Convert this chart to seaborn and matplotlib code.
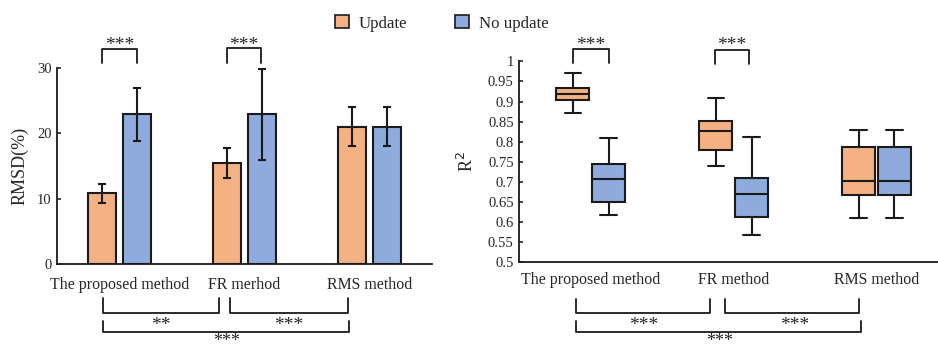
import numpy as np
import pandas as pd
import seaborn as sns
import matplotlib.pyplot as plt
import matplotlib.transforms as mtransforms
from matplotlib.patches import Patch

# RMSD (%) bars: mean and error half-width
methods_left = ['The proposed method', 'FR merhod', 'RMS method']
methods_right = ['The proposed method', 'FR method', 'RMS method']
groups = ['Update', 'No update']
rmsd_update = [10.8, 15.4, 21.0]
rmsd_noupdate = [22.9, 22.9, 21.0]
err_update = [1.4, 2.3, 3.0]
err_noupdate = [4.0, 7.0, 3.0]

# R2 boxes: whisker low, Q1, median, Q3, whisker high
r2_update = [
    [0.871, 0.903, 0.918, 0.934, 0.972],
    [0.740, 0.779, 0.826, 0.852, 0.909],
    [0.611, 0.667, 0.702, 0.786, 0.829],
]
r2_noupdate = [
    [0.617, 0.650, 0.708, 0.744, 0.809],
    [0.569, 0.613, 0.671, 0.710, 0.812],
    [0.611, 0.667, 0.702, 0.786, 0.829],
]

colors = ['#F4B183', '#8FAADC']

sns.set_style('white')
plt.rcParams['font.family'] = ['Liberation Serif', 'DejaVu Serif']

fig = plt.figure(figsize=(9.38, 3.54), dpi=100)
ax1 = fig.add_axes([0.0608, 0.2542, 0.3998, 0.5537])
ax2 = fig.add_axes([0.5536, 0.2590, 0.4464, 0.5678])

# ---- left: bar chart ----
bars = pd.DataFrame({
    'method': methods_left * 2,
    'group': [groups[0]] * 3 + [groups[1]] * 3,
    'value': rmsd_update + rmsd_noupdate,
})
sns.barplot(data=bars, x='method', y='value', hue='group', palette=colors,
            saturation=1, width=0.56, gap=0.2, errorbar=None,
            edgecolor='#1a1a1a', linewidth=1.5, ax=ax1, legend=False)
errs = err_update + err_noupdate
vals = rmsd_update + rmsd_noupdate
for p, v, e in zip(ax1.patches, vals, errs):
    cx = p.get_x() + p.get_width() / 2
    ax1.errorbar(cx, v, yerr=e, color='#1a1a1a', capsize=3, elinewidth=1.5,
                 capthick=1.5)
ax1.set_xlim(-0.5, 2.5)
ax1.set_ylim(0, 30)
ax1.set_yticks([0, 10, 20, 30])
ax1.set_xlabel('')
ax1.set_ylabel('RMSD(%)', fontsize=13, labelpad=6)

# ---- right: box plot ----
rows = []
for i, m in enumerate(methods_right):
    for v in r2_update[i]:
        rows.append((m, groups[0], v))
    for v in r2_noupdate[i]:
        rows.append((m, groups[1], v))
boxes = pd.DataFrame(rows, columns=['method', 'group', 'value'])
sns.boxplot(data=boxes, x='method', y='value', hue='group', palette=colors,
            saturation=1, width=0.5, gap=0.08, whis=(0, 100),
            linecolor='#1a1a1a', linewidth=1.5, ax=ax2, legend=False,
            medianprops={'color': '#1a1a1a', 'linewidth': 1.5},
            capprops={'color': '#1a1a1a', 'linewidth': 1.5})
ax2.set_xlim(-0.5, 2.43)
ax2.set_ylim(0.5, 1.0)
ax2.set_yticks(np.arange(0.5, 1.001, 0.05))
ax2.set_yticklabels(['0.5', '0.55', '0.6', '0.65', '0.7', '0.75', '0.8',
                     '0.85', '0.9', '0.95', '1'])
ax2.set_xlabel('')
ax2.set_ylabel('R$^2$', fontsize=13, labelpad=8)

for ax in (ax1, ax2):
    for s in ('top', 'right'):
        ax.spines[s].set_visible(False)
    for s in ('left', 'bottom'):
        ax.spines[s].set_color('#1a1a1a')
        ax.spines[s].set_linewidth(1.3)
    ax.tick_params(axis='y', direction='in', length=3, width=1.2,
                   labelsize=10.5, left=True, pad=4)
    ax.tick_params(axis='x', length=0, labelsize=11.4)
ax1.tick_params(axis='x', pad=9)
ax2.tick_params(axis='x', pad=7)

# ---- significance brackets (x in data units, y in figure pixels) ----
H = 354.0


def bracket(ax, x0, x1, y_end, y_bar, text, y_text, xt=None, va='center',
            size=14):
    tr = mtransforms.blended_transform_factory(ax.transData, fig.transFigure)
    ys = [1 - y_end / H, 1 - y_bar / H, 1 - y_bar / H, 1 - y_end / H]
    ax.plot([x0, x0, x1, x1], ys, color='#1a1a1a', lw=1.3, transform=tr,
            clip_on=False)
    if xt is None:
        xt = (x0 + x1) / 2
    ax.text(xt, 1 - y_text / H, text, transform=tr, ha='center',
            va=va, fontsize=size)


# left panel
bracket(ax1, -0.14, 0.14, 63, 49, '***', 46)
bracket(ax1, 0.86, 1.13, 63, 48, '***', 45)
bracket(ax1, -0.132, 0.796, 298, 313, '**', 326)
bracket(ax1, 0.884, 1.828, 298, 313, '***', 326)
bracket(ax1, -0.132, 1.836, 321, 332, '***', 333.5, xt=0.856, va='top',
        size=13)

# right panel
bracket(ax2, -0.126, 0.126, 63, 49, '***', 46)
bracket(ax2, 0.868, 1.106, 64, 50, '***', 46)
bracket(ax2, -0.1, 0.834, 299, 313, '***', 326, xt=0.37)
bracket(ax2, 0.94, 1.88, 299, 313, '***', 326, xt=1.43)
bracket(ax2, -0.1, 1.89, 321, 332, '***', 333.5, xt=0.90, va='top', size=13)

# ---- legend ----
handles = [Patch(facecolor=c, edgecolor='#1a1a1a', linewidth=1.2) for c in colors]
fig.legend(handles, groups, loc='upper center', bbox_to_anchor=(0.471, 1.0),
           ncol=2, frameon=False, fontsize=12.2, handlelength=0.8,
           handleheight=0.8, handletextpad=0.6, columnspacing=2.8)

fig.savefig('out.png', dpi=100)
